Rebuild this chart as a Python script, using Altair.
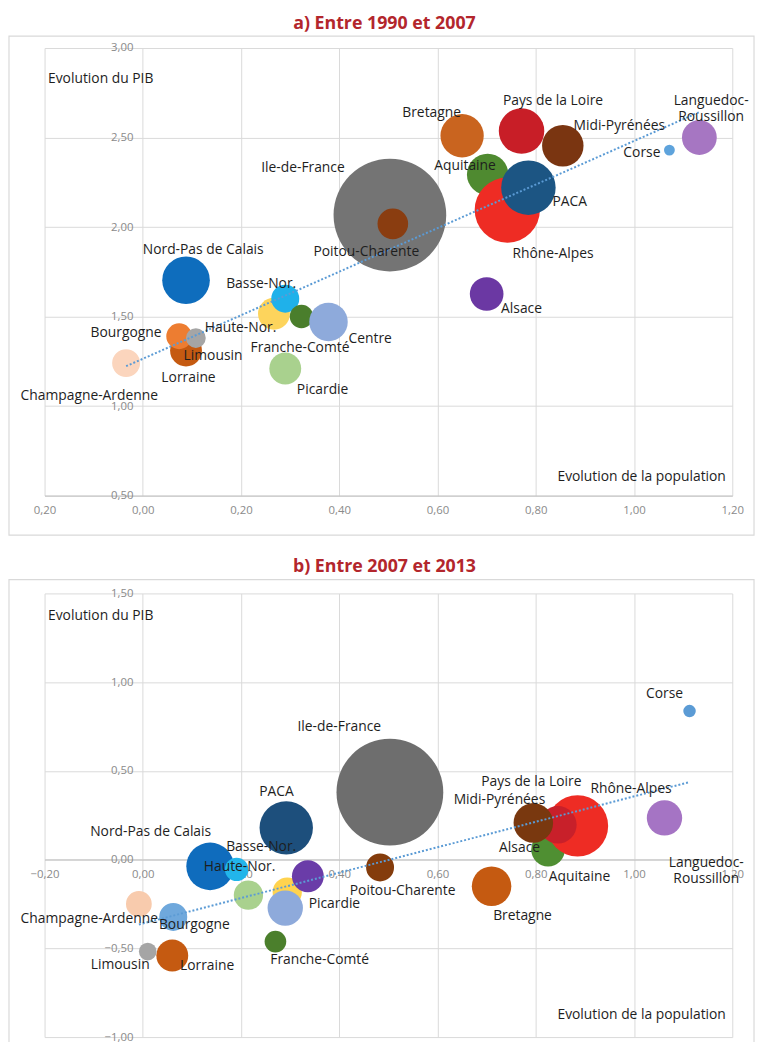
import altair as alt
import pandas as pd

# ---------------- data ----------------
regions = ["Ile-de-France", "Poitou-Charente", "Aquitaine", "Rhône-Alpes", "PACA",
           "Bretagne", "Pays de la Loire", "Midi-Pyrénées", "Corse",
           "Languedoc-Roussillon", "Nord-Pas de Calais", "Lorraine", "Bourgogne",
           "Limousin", "Haute-Nor.", "Alsace", "Basse-Nor.", "Franche-Comté",
           "Centre", "Champagne-Ardenne", "Picardie"]

# a) Entre 1990 et 2007
pop_a = [0.503, 0.509, 0.702, 0.742, 0.785, 0.650, 0.771, 0.855, 1.072, 1.133, 0.088,
         0.088, 0.074, 0.108, 0.267, 0.700, 0.290, 0.323, 0.378, -0.034, 0.290]
pib_a = [2.067, 2.018, 2.294, 2.095, 2.220, 2.510, 2.536, 2.454, 2.430, 2.500, 1.703,
         1.310, 1.390, 1.380, 1.516, 1.626, 1.600, 1.500, 1.470, 1.240, 1.210]
poids_a = [325, 24, 44, 109, 76, 48, 53, 44, 3, 31, 58, 26, 17, 10, 26, 29, 20, 14, 38, 20, 26]
labels_a = ["Ile-de-France", "Poitou-Charente", "Aquitaine", "Rhône-Alpes", "PACA",
            "Bretagne", "Pays de la Loire", "Midi-Pyrénées", "Corse",
            "Languedoc-\nRoussillon", "Nord-Pas de Calais", "Lorraine", "Bourgogne",
            "Limousin", "Haute-Nor.", "Alsace", "Basse-Nor.", "Franche-Comté",
            "Centre", "Champagne-Ardenne", "Picardie"]
label_x_a = [0.326, 0.455, 0.656, 0.835, 0.869, 0.588, 0.835, 0.970, 1.016, 1.157, 0.123,
             0.093, -0.034, 0.143, 0.199, 0.771, 0.241, 0.320, 0.463, -0.109, 0.366]
label_y_a = [2.327, 1.863, 2.338, 1.847, 2.139, 2.636, 2.702, 2.564, 2.415, 2.705, 1.874,
             1.157, 1.410, 1.278, 1.438, 1.543, 1.681, 1.322, 1.377, 1.057, 1.091]
couleurs_a = ["#747474", "#8a3d10", "#4f8a30", "#ee2c24", "#1c5583", "#c9641f", "#c81e27",
              "#7a3511", "#5ea3dc", "#a676c2", "#0e6dbd", "#c55a11", "#ed7d31", "#a5a5a5",
              "#fdd45c", "#6b38a3", "#1fb1ea", "#4a7e2c", "#8eaadb", "#fbd5bd", "#a9d18e"]

# b) Entre 2007 et 2013
pop_b = [0.503, 0.483, 0.825, 0.885, 0.292, 0.710, 0.845, 0.795, 1.113, 1.062, 0.137,
         0.060, 0.062, 0.010, 0.294, 0.336, 0.191, 0.270, 0.290, -0.008, 0.215]
pib_b = [0.380, -0.044, 0.056, 0.190, 0.179, -0.150, 0.196, 0.207, 0.837, 0.235, -0.038,
         -0.540, -0.323, -0.518, -0.183, -0.094, -0.055, -0.462, -0.273, -0.250, -0.200]
poids_b = [292, 20, 29, 96, 73, 40, 36, 40, 4, 32, 58, 26, 20, 8, 22, 26, 14, 12, 32, 17, 22]
labels_b = ["Ile-de-France", "Poitou-Charente", "Aquitaine", "Rhône-Alpes", "PACA",
            "Bretagne", "Pays de la Loire", "Midi-Pyrénées", "Corse",
            "Languedoc-\nRoussillon", "Nord-Pas de Calais", "Lorraine", "Bourgogne",
            "Limousin", "Haute-Nor.", "Alsace", "Basse-Nor.", "Franche-Comté",
            "", "Champagne-Ardenne", "Picardie"]
label_x_b = [0.400, 0.529, 0.889, 0.994, 0.272, 0.773, 0.791, 0.726, 1.062, 1.147, 0.016,
             0.131, 0.105, -0.046, 0.197, 0.767, 0.241, 0.360, 0.290, -0.109, 0.390]
label_y_b = [0.748, -0.178, -0.100, 0.396, 0.380, -0.317, 0.435, 0.335, 0.931, -0.022, 0.157,
             -0.601, -0.367, -0.596, -0.044, 0.067, 0.073, -0.568, -0.273, -0.334, -0.250]
couleurs_b = ["#6e6e6e", "#843c0c", "#4f8f32", "#ee2c24", "#1d4f7c", "#c55a11", "#c8202a",
              "#79380f", "#5b9bd5", "#a574c4", "#0f6cbd", "#c55a11", "#6fa8dc", "#a5a5a5",
              "#ffd34f", "#6a3ca8", "#22b5ea", "#4b7f2c", "#8eaadb", "#f8cbad", "#a9d18e"]

x_ticks = [-0.2, 0.0, 0.2, 0.4, 0.6, 0.8, 1.0, 1.2]
y_ticks_a = [0.5, 1.0, 1.5, 2.0, 2.5, 3.0]
y_ticks_b = [-1.0, -0.5, 0.0, 0.5, 1.0, 1.5]

# ---------------- layout ----------------
W = 696
FONT = "Open Sans"
GRID = "#d9d9d9"
TXT = "#1e1e1e"
TICKC = "#8a8a8a"


def frame_df(pop, pib, poids, labels, lx, ly, couleurs):
    return pd.DataFrame({
        "region": regions, "x": pop, "y": pib, "poids": poids, "label": labels,
        "lx": lx, "ly": ly, "couleur": couleurs, "rang": list(range(len(regions))),
    })


def panel(df, title, y_ticks, h, x_label_expr, frame_top, pib_title_y, pop_title_y):
    x_dom = [x_ticks[0], x_ticks[-1]]
    y_dom = [y_ticks[0], y_ticks[-1]]
    x0_px = W * (0 - x_dom[0]) / (x_dom[1] - x_dom[0])
    y_cross = y_dom[0] if y_dom[0] > 0 else 0
    y_cross_px = h * (y_dom[1] - y_cross) / (y_dom[1] - y_dom[0])
    x_off = -(h - y_cross_px)

    xs = alt.Scale(domain=x_dom, nice=False, zero=False)
    ys = alt.Scale(domain=y_dom, nice=False, zero=False)
    x_axis = alt.Axis(values=x_ticks, grid=True, gridColor=GRID, domainColor="#bfbfbf",
                      ticks=False, offset=x_off, labelPadding=9, labelFontSize=11.5,
                      labelColor=TICKC, labelFlush=False, labelOverlap=False,
                      labelExpr=x_label_expr,
                      title="Evolution de la population", titleAlign="right",
                      titleBaseline="middle", titleAngle=0, titleX=W - 7,
                      titleY=pop_title_y - (h + x_off), titleFontSize=14,
                      titleFontWeight="normal", titleColor=TXT)
    y_axis = alt.Axis(values=y_ticks, grid=True, gridColor=GRID, domain=False,
                      ticks=False, offset=-x0_px, labelPadding=10, labelFontSize=11.5,
                      labelColor=TICKC, labelFlush=False, labelOverlap=False,
                      labelExpr="replace(format(datum.value, '.2f'), '.', ',')",
                      title="Evolution du PIB", titleAlign="left", titleBaseline="middle",
                      titleAngle=0, titleX=3 - x0_px, titleY=pib_title_y,
                      titleFontSize=14, titleFontWeight="normal", titleColor=TXT)

    base = alt.Chart(df)
    frame = alt.Chart(alt.Data(values=[{"k": 1}])).mark_rect(
        fillOpacity=0, stroke=GRID, strokeWidth=1.2
    ).encode(x=alt.value(-36), x2=alt.value(W + 22), y=alt.value(frame_top),
             y2=alt.value(h + 40))
    bubbles = base.mark_circle(opacity=1).encode(
        x=alt.X("x:Q", scale=xs, axis=x_axis),
        y=alt.Y("y:Q", scale=ys, axis=y_axis),
        size=alt.Size("poids:Q", scale=alt.Scale(domain=[0, 330], range=[0, 13200]),
                      legend=None),
        color=alt.Color("couleur:N", scale=None),
        order=alt.Order("rang:Q"),
    )
    trend = base.transform_regression("x", "y").mark_line(
        color="#5b9bd5", strokeWidth=2, strokeDash=[2, 2]
    ).encode(x=alt.X("x:Q", scale=xs, axis=x_axis), y=alt.Y("y:Q", scale=ys, axis=y_axis))
    labels = base.mark_text(font=FONT, fontSize=14, color=TXT, lineBreak="\n",
                            baseline="middle", align="center").encode(
        x=alt.X("lx:Q", scale=xs, axis=x_axis),
        y=alt.Y("ly:Q", scale=ys, axis=y_axis),
        text="label:N",
    )
    return alt.layer(frame, bubbles, trend, labels).properties(
        width=W, height=h,
        title=alt.TitleParams(title, font=FONT, fontSize=18, fontWeight="bold",
                              color="#b3262c", anchor="middle", offset=3, dx=-4),
    )


df_a = frame_df(pop_a, pib_a, poids_a, labels_a, label_x_a, label_y_a, couleurs_a)
df_b = frame_df(pop_b, pib_b, poids_b, labels_b, label_x_b, label_y_b, couleurs_b)

chart_a = panel(df_a, "a) Entre 1990 et 2007", y_ticks_a, 453,
                "replace(format(abs(datum.value), '.2f'), '.', ',')", -12, 31, 434)
chart_b = panel(df_b, "b) Entre 2007 et 2013", y_ticks_b, 449,
                "replace(format(datum.value, '.2f'), '.', ',')", -14, 22, 426)

chart = alt.vconcat(chart_a, chart_b, spacing=22).properties(padding=0).configure_view(
    strokeWidth=0
).configure_axis(labelFont=FONT, titleFont=FONT)

chart.save("out.html", embed_options={"renderer": "svg", "actions": False})
